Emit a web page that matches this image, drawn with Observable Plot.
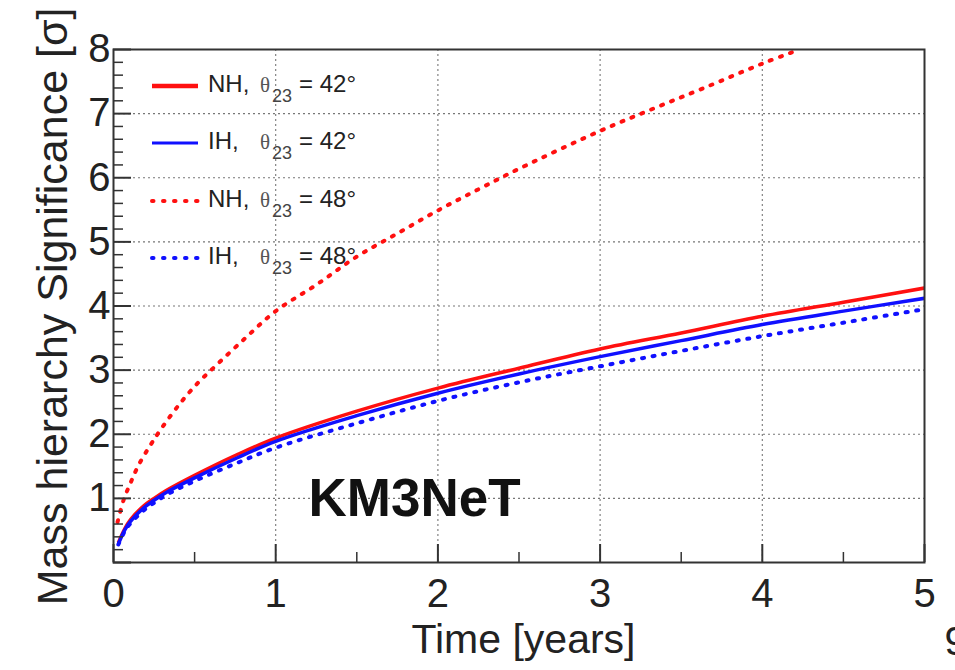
<!DOCTYPE html>
<html><head><meta charset="utf-8">
<script src="https://cdn.jsdelivr.net/npm/d3@7"></script>
<script src="https://cdn.jsdelivr.net/npm/@observablehq/plot@0.6"></script>
<style>body{margin:0;background:#fff;} #chart svg{display:block}</style>
</head><body><div id="chart"></div>
<script>
// ---- data ----
const time42 = [0.03, 0.07, 0.105, 0.185, 0.25, 0.33, 0.5, 0.76, 1.0, 1.5, 2.0, 2.5, 3.0, 3.5, 4.0, 4.5, 5.0];
const nh42   = [0.31, 0.53, 0.67, 0.88, 1.00, 1.13, 1.36, 1.68, 1.94, 2.36, 2.72, 3.03, 3.33, 3.58, 3.84, 4.06, 4.28];
const ih42   = [0.29, 0.51, 0.64, 0.85, 0.97, 1.10, 1.32, 1.63, 1.89, 2.29, 2.64, 2.94, 3.21, 3.46, 3.71, 3.92, 4.12];
const ih48   = [0.28, 0.49, 0.61, 0.81, 0.93, 1.06, 1.27, 1.55, 1.79, 2.17, 2.52, 2.81, 3.06, 3.30, 3.53, 3.74, 3.95];
const timeNh48 = [0.025, 0.063, 0.105, 0.155, 0.23, 0.29, 0.41, 0.52, 0.61, 0.8, 1.0, 1.25, 1.5, 1.75, 2.0, 2.25, 2.5, 3.0, 3.33, 3.64, 4.0, 4.23];
const nh48     = [0.63, 0.98, 1.24, 1.52, 1.84, 2.07, 2.48, 2.80, 3.02, 3.47, 3.92, 4.33, 4.77, 5.13, 5.49, 5.82, 6.14, 6.73, 7.08, 7.40, 7.78, 8.00];

const xTicks = [0, 1, 2, 3, 4, 5];
const xMinorTicks = [0.5, 1.5, 2.5, 3.5, 4.5];
const yTicks = [0, 1, 2, 3, 4, 5, 6, 7, 8];
const yTickLabels = [1, 2, 3, 4, 5, 6, 7, 8];
const yMinorTicks = d3.range(0.2, 8, 0.2).filter(v => Math.abs(v - Math.round(v)) > 1e-6);

const seriesHier  = ["NH", "IH", "NH", "IH"];
const seriesAngle = ["42°", "42°", "48°", "48°"];
const seriesColor = ["#ff1010", "#1010ff", "#ff1010", "#1010ff"];
const seriesDotted = [false, false, true, true];

const xTitle = "Time [years]";
const yTitle = "Mass hierarchy Significance [σ]";
const label = "KM3NeT";

const toRows = (ts, vs) => ts.map((t, i) => ({t, v: vs[i]}));
const rows = [toRows(time42, nh42), toRows(time42, ih42), toRows(timeNh48, nh48), toRows(time42, ih48)];

const W = 955, H = 670, ML = 113, MR = 31, MT = 49, MB = 108;
const FW = W - ML - MR, FH = H - MT - MB;
const font = "Liberation Sans, Arial, Helvetica, sans-serif";
const ink = "#222";

const lineMarks = rows.map((data, i) => Plot.line(data, {
  x: "t", y: "v", stroke: seriesColor[i], curve: "catmull-rom",
  strokeWidth: seriesDotted[i] ? 4 : 3.5,
  strokeDasharray: seriesDotted[i] ? "2,8.7" : null,
  strokeLinecap: seriesDotted[i] ? "round" : "butt",
  clip: true
}));

const chart = Plot.plot({
  width: W, height: H,
  marginLeft: ML, marginRight: MR, marginTop: MT, marginBottom: MB,
  style: {fontFamily: font, color: ink, background: "#fff"},
  x: {domain: [0, 5]},
  y: {domain: [0, 8]},
  marks: [
    Plot.gridX(xTicks.slice(1, -1), {stroke: "#777", strokeOpacity: 1, strokeWidth: 1.1, strokeDasharray: "2,3"}),
    Plot.gridY(yTicks.slice(1, -1), {stroke: "#777", strokeOpacity: 1, strokeWidth: 1.1, strokeDasharray: "2,3"}),
    ...lineMarks,
    // inward ticks
    Plot.ruleX(xTicks, {x: d => d, insetTop: FH - 18, stroke: "#333", strokeWidth: 2}),
    Plot.ruleX(xMinorTicks, {x: d => d, insetTop: FH - 10, stroke: "#333", strokeWidth: 1.5}),
    Plot.ruleY(yTicks, {y: d => d, insetRight: FW - 18, stroke: "#333", strokeWidth: 2}),
    Plot.ruleY(yMinorTicks, {y: d => d, insetRight: FW - 10, stroke: "#333", strokeWidth: 1.5}),
    Plot.frame({stroke: "#333", strokeWidth: 2}),
    Plot.axisX(xTicks, {tickSize: 0, tickPadding: 16, fontSize: 40, label: null, tickFormat: d => String(d), fill: ink}),
    Plot.axisY(yTickLabels, {tickSize: 0, tickPadding: 3, fontSize: 40, label: null, tickFormat: d => String(d), fill: ink}),
    Plot.text([xTitle], {frameAnchor: "bottom", text: d => d, textAnchor: "end", dx: 635 - (ML + FW / 2), dy: 90, fontSize: 41, fill: ink}),
    Plot.text([yTitle], {frameAnchor: "top-left", text: d => d, textAnchor: "end", rotate: -90, dx: -77, dy: -42, fontSize: 43, fill: ink}),
    Plot.text([label], {frameAnchor: "bottom-left", text: d => d, textAnchor: "start", dx: 195, dy: -47, fontSize: 53, fontWeight: "bold", fill: "#111"}),
    Plot.text(["9"], {frameAnchor: "bottom-right", text: d => d, textAnchor: "start", dx: 20, dy: 92, fontSize: 40, fill: ink})
  ]
});

document.getElementById("chart").appendChild(chart);

// ---- legend (inside the frame, upper left) ----
const svg = d3.select(chart);
const lg = svg.append("g").attr("font-family", font).attr("fill", ink).attr("text-anchor", "start");
const rowY = [86, 143, 201, 258];
seriesHier.forEach((h, i) => {
  const y = rowY[i];
  lg.append("line").attr("x1", 152).attr("x2", 198).attr("y1", y).attr("y2", y)
    .attr("stroke", seriesColor[i]).attr("stroke-width", seriesDotted[i] ? 4 : (i === 0 ? 4.5 : 3))
    .attr("stroke-linecap", seriesDotted[i] ? "round" : "butt")
    .attr("stroke-dasharray", seriesDotted[i] ? "1.5,9.5" : null);
  const base = y + 6;
  lg.append("text").attr("x", 208).attr("y", base).attr("font-size", 24).text(h + ",");
  lg.append("text").attr("x", 260).attr("y", base).attr("font-size", 21)
    .attr("font-family", "Liberation Serif, serif").attr("fill", "#555").text("θ");
  lg.append("text").attr("x", 272).attr("y", base + 10).attr("font-size", 18).attr("fill", "#444").text("23");
  lg.append("text").attr("x", 299).attr("y", base).attr("font-size", 24).text("= " + seriesAngle[i]);
});
</script>
</body></html>
